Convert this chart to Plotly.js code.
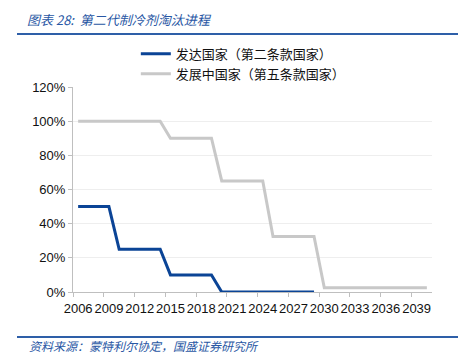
<!DOCTYPE html>
<html>
<head>
<meta charset="utf-8">
<script src="https://cdn.plot.ly/plotly-3.0.1.min.js"></script>
<style>html,body{margin:0;padding:0;background:#fff;}#chart{width:458px;height:355px;}</style>
</head>
<body>
<div id="chart"></div>
<script>
var years = ['2006','2007','2008','2009','2010','2011','2012','2013','2014','2015','2016','2017',
  '2018','2019','2020','2021','2022','2023','2024','2025','2026','2027','2028','2029','2030',
  '2031','2032','2033','2034','2035','2036','2037','2038','2039','2040'];
var developed = [50,50,50,50,25,25,25,25,25,10,10,10,10,10,0,0,0,0,0,0,0,0,0,0,
  null,null,null,null,null,null,null,null,null,null,null];
var developing = [100,100,100,100,100,100,100,100,100,90,90,90,90,90,65,65,65,65,65,
  32.5,32.5,32.5,32.5,32.5,2.5,2.5,2.5,2.5,2.5,2.5,2.5,2.5,2.5,2.5,2.5];
var seriesNames = ['发达国家（第二条款国家）','发展中国家（第五条款国家）'];
var titleText = '图表 28:  第二代制冷剂淘汰进程';
var sourceText = '资料来源：蒙特利尔协定，国盛证券研究所';

var cjk = '"Noto Sans CJK SC", "Liberation Sans", sans-serif';
var num = '"Liberation Sans", Arial, sans-serif';

var traces = [
  {x: years, y: developed, name: seriesNames[0], type: 'scatter', mode: 'lines',
   line: {color: '#0B4496', width: 3}, connectgaps: false},
  {x: years, y: developing, name: seriesNames[1], type: 'scatter', mode: 'lines',
   line: {color: '#C8C8C8', width: 3}}
];

var layout = {
  width: 458, height: 355,
  margin: {l: 73, r: 26, t: 87, b: 63},
  paper_bgcolor: '#fff', plot_bgcolor: '#fff',
  showlegend: true,
  legend: {x: 0.175, y: 1.235, xanchor: 'left', yanchor: 'top', orientation: 'v',
    font: {family: cjk, size: 13, color: '#111'}, bgcolor: 'rgba(0,0,0,0)', tracegroupgap: 0},
  title: {text: titleText, xref: 'container', yref: 'container', x: 27/458, xanchor: 'left',
    y: 1 - 20/355, yanchor: 'middle',
    font: {family: cjk, size: 13, color: '#2957A4', style: 'italic'}},
  xaxis: {type: 'category', range: [-0.5, 34.5], tickmode: 'linear', tick0: 0, dtick: 3,
    tickson: 'boundaries', ticks: 'outside', ticklen: 4, tickcolor: '#BFBFBF', tickangle: 0,
    ticklabelstandoff: 4,
    showline: true, linecolor: '#BFBFBF', linewidth: 1, showgrid: false, zeroline: false,
    tickfont: {family: num, size: 13, color: '#111'}, fixedrange: true},
  yaxis: {range: [0, 120], dtick: 20, ticksuffix: '%', ticks: 'outside', ticklen: 4,
    tickcolor: '#BFBFBF', showline: true, linecolor: '#BFBFBF', linewidth: 1,
    showgrid: true, gridcolor: '#EEEEEE', zeroline: false,
    tickfont: {family: num, size: 13, color: '#111'}, fixedrange: true},
  shapes: [
    {type: 'line', xref: 'paper', yref: 'paper', x0: (17-73)/359, x1: (458-73)/359,
     y0: (292-34)/205, y1: (292-34)/205, line: {color: '#2E5FA8', width: 2}},
    {type: 'line', xref: 'paper', yref: 'paper', x0: (17-73)/359, x1: (458-73)/359,
     y0: (292-337)/205, y1: (292-337)/205, line: {color: '#2E5FA8', width: 2}}
  ],
  annotations: [
    {text: sourceText, xref: 'paper', yref: 'paper', x: (27-73)/359, y: (292-345)/205,
     xanchor: 'left', yanchor: 'middle', showarrow: false,
     font: {family: cjk, size: 12, color: '#2957A4', style: 'italic'}}
  ]
};

Plotly.newPlot('chart', traces, layout, {displayModeBar: false, staticPlot: true});
</script>
</body>
</html>
